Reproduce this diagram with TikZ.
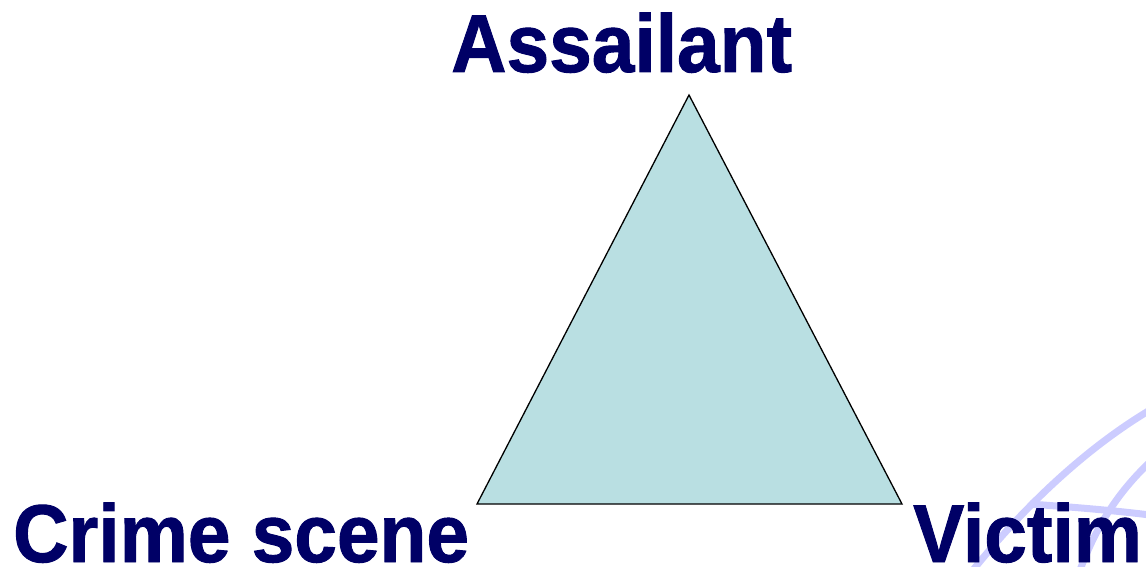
\documentclass[tikz,border=0pt]{standalone}
\usepackage{fontspec}
\setmainfont{Liberation Sans}[BoldFeatures={FakeBold=1.2}]
\definecolor{navy}{HTML}{000066}
\definecolor{teal}{HTML}{B9DFE2}
\definecolor{lav}{HTML}{CCCCFF}
\tikzset{
  lbl/.style={inner sep=0pt, anchor=base west, text=navy, font=\fontsize{82}{90}\selectfont\bfseries, xscale=0.935},
  globe/.style={draw=lav, line width=7pt},
  tri/.style={draw=black, fill=teal, line width=1.3pt, line join=miter}
}
\begin{document}
\begin{tikzpicture}[x=1pt,y=-1pt]
\useasboundingbox (0,0) rectangle (1146,567);
% decorative globe lines
\begin{scope}
\clip (0,0) rectangle (1146,567);
\draw[globe] (973,570) .. controls (1020,512) and (1080,452) .. (1150,410);
\draw[globe] (1080,570) .. controls (1095,530) and (1115,495) .. (1150,462);
\draw[globe] (1030,504) .. controls (1070,507) and (1110,510) .. (1150,515);
\end{scope}
% triangle
\coordinate (A) at (689,95);
\coordinate (C) at (477,504);
\coordinate (V) at (902,504);
\draw[tri] (A) -- (V) -- (C) -- cycle;
% labels
\node[lbl] (assailant) at (451,72) {Assailant};
\node[lbl] (crime) at (13,562) {Crime scene};
\node[lbl] (victim) at (913,562) {Victim};
\end{tikzpicture}
\end{document}
